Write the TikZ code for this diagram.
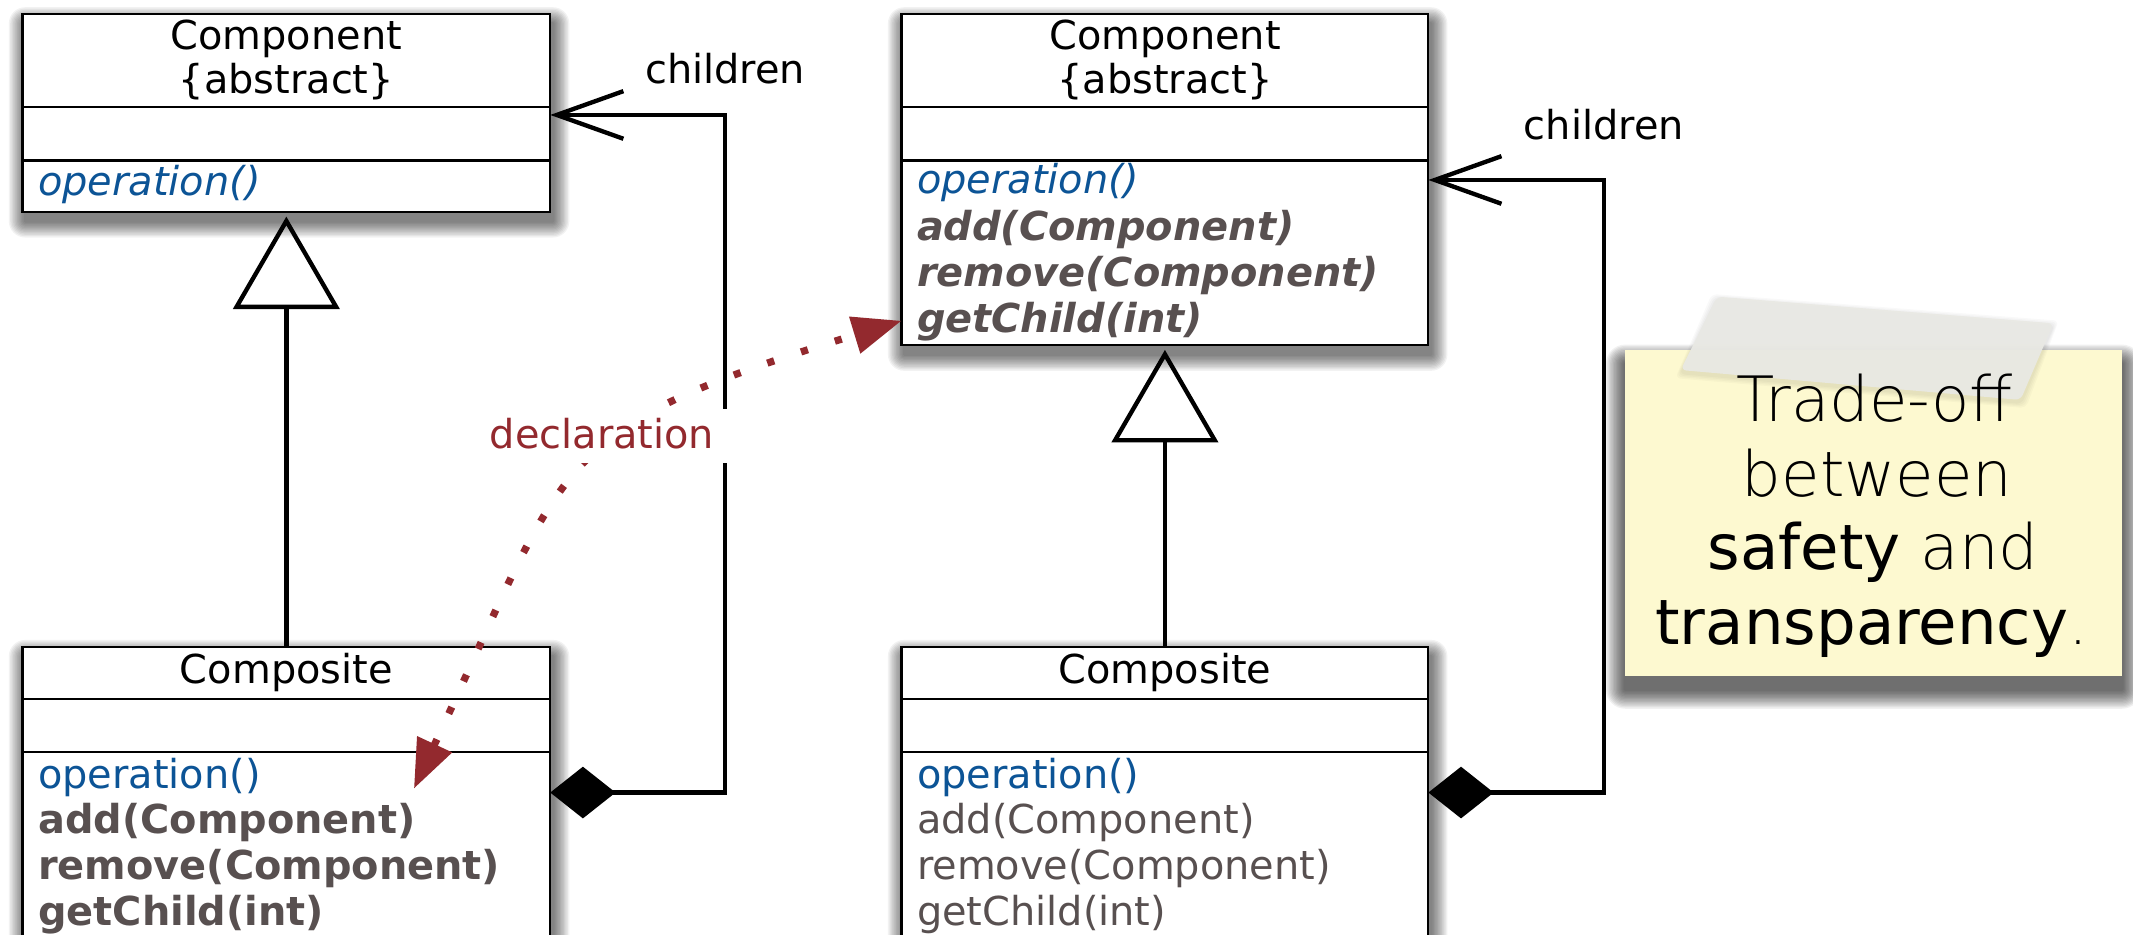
\documentclass[tikz,border=0pt]{standalone}
\usepackage{fontspec}
\setmainfont{DejaVu Sans}
\newfontfamily\thinfont{DejaVu Sans ExtraLight}
\usetikzlibrary{arrows.meta}
\pgfdeclarelayer{bg}
\pgfsetlayers{bg,main}
\definecolor{opblue}{RGB}{12,84,150}
\definecolor{opgray}{RGB}{88,80,80}
\definecolor{declred}{RGB}{147,41,46}
\definecolor{notefill}{RGB}{253,249,208}
\definecolor{tapefill}{RGB}{233,233,228}
\tikzset{
  umlbox/.style={draw=black, fill=white, line width=0.8pt, rectangle,
    inner sep=0pt, outer sep=0pt, anchor=north west},
  compline/.style={line width=0.8pt},
  diagfont/.style={font=\fontsize{14.65pt}{16.85pt}\selectfont},
  title/.style={diagfont, anchor=base, inner sep=0pt, text=black},
  method/.style={diagfont, anchor=base west, inner sep=0pt},
  lbl/.style={diagfont, anchor=base, inner sep=0pt, text=black},
  gen/.style={line width=1.6pt, arrows={-Triangle[open, length=34pt, width=39pt]},
    shorten >=1.8pt},
  comp/.style={line width=1.6pt,
    arrows={Diamond[length=24pt, width=19pt]-Straight Barb[length=24.5pt, width=17.5pt]}},
  decl/.style={draw=declred, line width=2.65pt, dash pattern=on 2.65pt off 10.4pt,
    arrows={Triangle[length=18pt, width=13.5pt]-Triangle[length=18pt, width=13.5pt]}},
  decllbl/.style={diagfont, anchor=base, text=declred, fill=white,
    inner xsep=6pt, inner ysep=3pt, text height=11.5pt, text depth=2pt},
  notebox/.style={fill=notefill, draw=none, rectangle, inner sep=0pt,
    outer sep=0pt, anchor=north west},
  notetext/.style={font=\fontsize{23pt}{27.35pt}\selectfont, anchor=base,
    inner sep=0pt, text=black},
}
\begin{document}
\begin{tikzpicture}[x=0.5pt, y=-0.5pt]
\useasboundingbox (0,0) rectangle (1568,687);

% class boxes
\node[umlbox, minimum width=194pt, minimum height=72.65pt] (lc) at (16.5,10.3) {};
\node[umlbox, minimum width=193.65pt, minimum height=121.65pt] (rc) at (662.7,10.3) {};
\node[umlbox, minimum width=194pt, minimum height=130pt] (lco) at (16.5,475.4) {};
\node[umlbox, minimum width=193.65pt, minimum height=130pt] (rco) at (662.7,475.4) {};

% compartment separators
\foreach \b/\ya/\yb in {lc/-34.3pt/-53.85pt, rc/-34.3pt/-53.85pt,
                        lco/-19.35pt/-38.6pt, rco/-19.35pt/-38.6pt}{
  \draw[compline] ([yshift=\ya]\b.north west) -- ([yshift=\ya]\b.north east);
  \draw[compline] ([yshift=\yb]\b.north west) -- ([yshift=\yb]\b.north east);
}

% left abstract component
\node[title] (lct1) at (210.5,36.3) {Component};
\node[title] (lct2) at (210.5,68.6) {\{abstract\}};
\node[method, text=opblue] (lcm1) at (27.7,143.5) {\itshape operation()};

% right abstract component
\node[title] (rct1) at (856.4,36.3) {Component};
\node[title] (rct2) at (856.4,68.6) {\{abstract\}};
\node[method, text=opblue] (rcm1) at (673.7,142.5) {\itshape operation()};
\node[method, text=opgray] (rcm2) at (673.7,176.5) {\bfseries\itshape add(Component)};
\node[method, text=opgray] (rcm3) at (673.7,210.5) {\bfseries\itshape remove(Component)};
\node[method, text=opgray] (rcm4) at (673.7,244.5) {\bfseries\itshape getChild(int)};

% left composite
\node[title] (lcot) at (210.5,502.3) {Composite};
\node[method, text=opblue] (lcom1) at (27.7,579.5) {operation()};
\node[method, text=opgray] (lcom2) at (27.7,613) {\bfseries add(Component)};
\node[method, text=opgray] (lcom3) at (27.7,646.5) {\bfseries remove(Component)};
\node[method, text=opgray] (lcom4) at (27.7,680) {\bfseries getChild(int)};

% right composite
\node[title] (rcot) at (856.4,502.3) {Composite};
\node[method, text=opblue] (rcom1) at (673.7,579.5) {operation()};
\node[method, text=opgray] (rcom2) at (673.7,613) {add(Component)};
\node[method, text=opgray] (rcom3) at (673.7,646.5) {remove(Component)};
\node[method, text=opgray] (rcom4) at (673.7,680) {getChild(int)};

% generalization
\draw[gen] (lco.north) -- (lc.south);
\draw[gen] (rco.north) -- (rc.south);

% composition ("children")
\coordinate (lturn) at (533,84.5);
\coordinate (rturn) at (1179,132.3);
\draw[comp] ([yshift=-53.6pt]lco.north east) -| (lturn) -- (lturn -| lc.east);
\draw[comp] ([yshift=-53.6pt]rco.north east) -| (rturn) -- (rturn -| rc.east);
\node[lbl] (lch) at ([yshift=11.6pt]lturn) {children};
\node[lbl] (rch) at ([yshift=14.7pt]rturn) {children};

% declaration link
\coordinate (declfrom) at ([xshift=143.9pt, yshift=-52.15pt]lco.north west);
\draw[decl] (declfrom) to[out=65, in=197, looseness=1.4] ([yshift=-112.75pt]rc.north west);
\node[decllbl] (decl) at (442.5,330) {declaration};

% sticky note with a strip of tape
\node[notebox, minimum width=182.7pt, minimum height=119.85pt] (note) at (1194.6,257.3) {};
\foreach \r in {1,...,4}{
  \fill[black, fill opacity=0.025, rounded corners=2pt]
    (1262.3-\r,218.1+2-\r) -- (1509.4+\r,237.7+2-\r) -- (1485.3+\r,294+2+\r) -- (1235.5-\r,272+2+\r) -- cycle;
}
\fill[tapefill, fill opacity=0.95, rounded corners=2pt]
  (1262.3,218.1) -- (1509.4,237.7) -- (1485.3,294) -- (1235.5,272) -- cycle;
\node[notetext] (n1) at (1378,310) {\thinfont Trade-off};
\node[notetext] (n2) at (1380,365) {\thinfont between};
\node[notetext] (n3) at (1377,419) {safety {\thinfont and}};
\node[notetext] (n4) at (1376,474) {transparency{\thinfont .}};

% page and soft shadows
\begin{pgfonlayer}{bg}
  \fill[white] (0,0) rectangle (1568,687);
  \foreach \n in {lc,rc,lco,rco}{
    \foreach \r in {1,...,12}{
      \fill[black, fill opacity=0.05, rounded corners=\r*0.5pt]
        ([shift={(2-\r,7-\r)}]\n.north west) rectangle ([shift={(2+\r,7+\r)}]\n.south east);
    }
  }
  \foreach \r in {1,...,14}{
    \fill[black, fill opacity=0.055, rounded corners=\r*0.5pt]
      ([shift={(0-\r,10-\r)}]note.north west) rectangle ([shift={(0+\r,10+\r)}]note.south east);
  }
\end{pgfonlayer}
\end{tikzpicture}
\end{document}
